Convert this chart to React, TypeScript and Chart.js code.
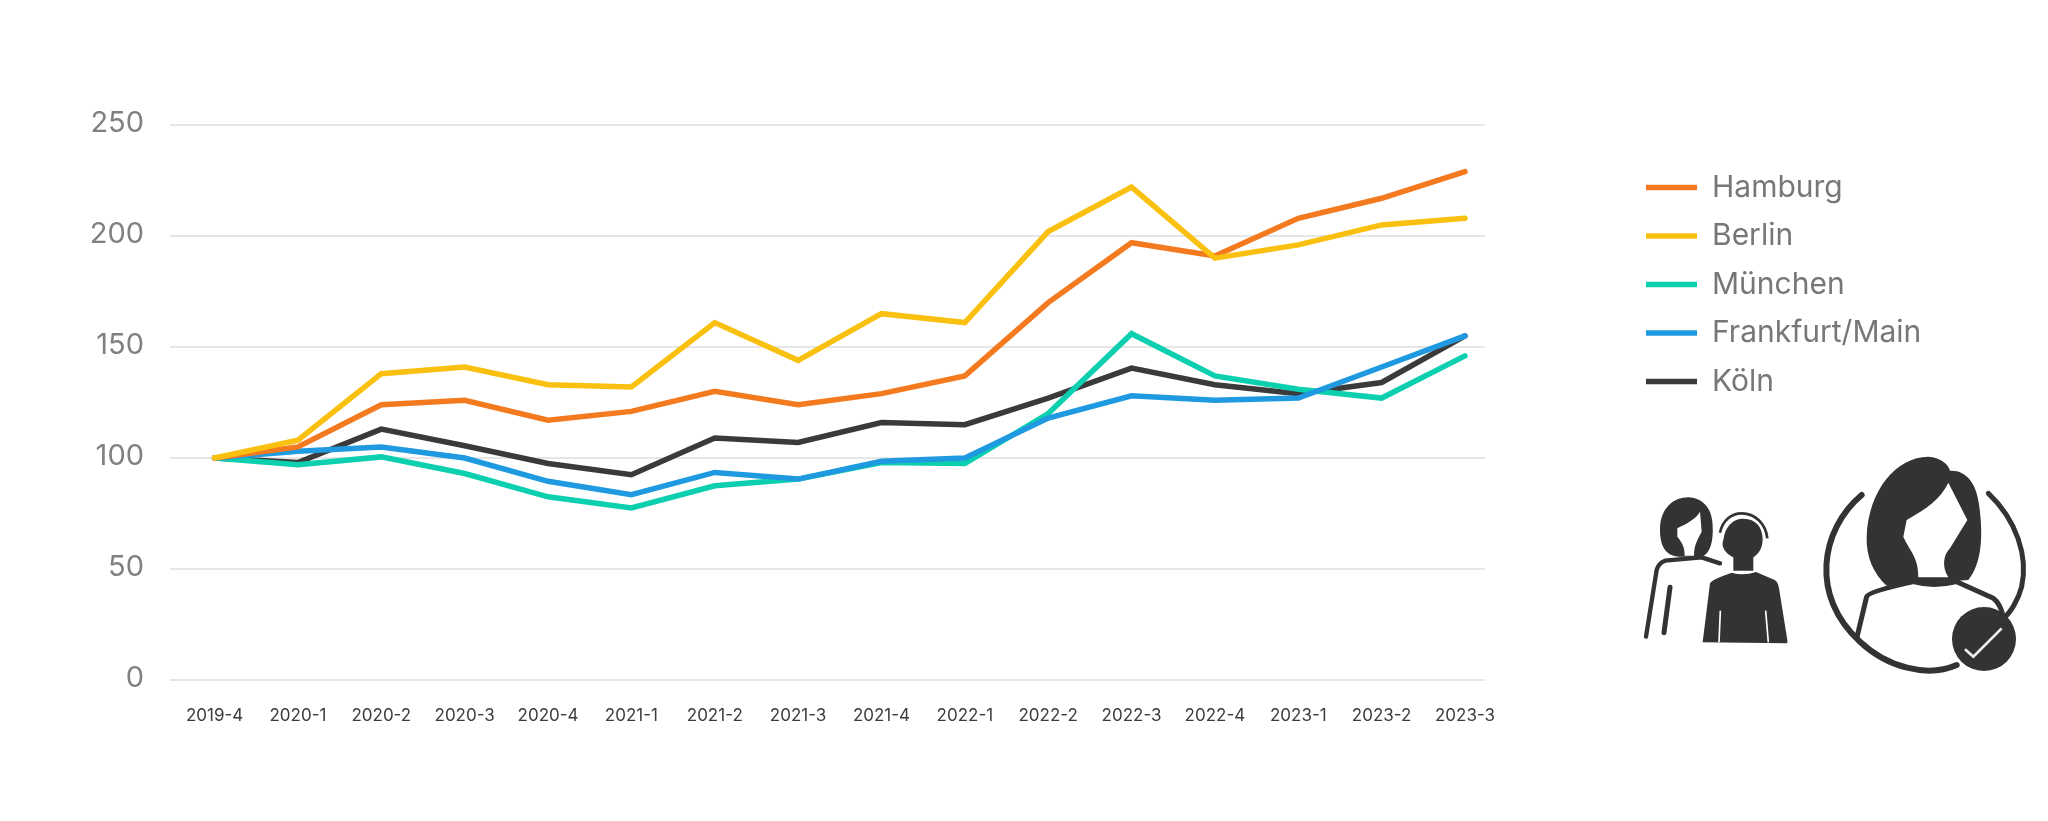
import React, { useEffect, useRef } from "react";
import { Chart, registerables } from "chart.js";

Chart.register(...registerables);

const categories = ["2019-4","2020-1","2020-2","2020-3","2020-4","2021-1","2021-2","2021-3","2021-4","2022-1","2022-2","2022-3","2022-4","2023-1","2023-2","2023-3"];
const hamburg = [100,105,124,126,117,121,130,124,129,137,170,197,191,208,217,229];
const berlin = [100,108,138,141,133,132,161,144,165,161,202,222,190,196,205,208];
const muenchen = [100,97,100.5,93,82.5,77.5,87.5,90.5,98,97.5,120,156,137,131,127,146];
const frankfurt = [100,103,105,100,89.5,83.5,93.5,90.5,98.5,100,118,128,126,127,141,155];
const koeln = [100,98,113,105.5,97.5,92.5,109,107,116,115,127,140.5,133,129,134,155];
const yTicks = [0,50,100,150,200,250];

const FONT = "Inter, 'Open Sans', sans-serif";

const legendPlace = {
  id: "legendPlace",
  beforeLayout(chart: any) {
    const legend = chart.legend;
    if (legend && !legend.__wrapped) {
      const fit = legend.fit;
      legend.fit = function () {
        fit.call(this);
        this.width = 563;
      };
      legend.__wrapped = true;
    }
  },
  afterLayout(chart: any) {
    const legend = chart.legend;
    const pad = legend.options.labels.padding;
    legend.left = 1646 - pad;
    legend.right = 2048;
    legend.top = 154;
  },
};

function App() {
  const ref = useRef<HTMLCanvasElement>(null);
  useEffect(() => {
    const series = [
      { label: "Hamburg", values: hamburg, color: "#f47a20", order: 1 },
      { label: "Berlin", values: berlin, color: "#fac00f", order: 0 },
      { label: "München", values: muenchen, color: "#0bcfae", order: 3 },
      { label: "Frankfurt/Main", values: frankfurt, color: "#1f9ae0", order: 2 },
      { label: "Köln", values: koeln, color: "#3a3a3a", order: 4 },
    ];
    const chart = new Chart(ref.current as HTMLCanvasElement, {
      type: "line",
      data: {
        datasets: series.map((s) => ({
          label: s.label,
          data: s.values.map((y, i) => ({ x: i, y })),
          borderColor: s.color,
          backgroundColor: s.color,
          borderWidth: 5.5,
          borderCapStyle: "round",
          borderJoinStyle: "miter",
          pointRadius: 0,
          tension: 0,
          order: s.order,
        })),
      },
      options: {
        animation: false,
        responsive: false,
        devicePixelRatio: 1,
        layout: { padding: { top: 125, left: 0, right: 0, bottom: 0 } },
        plugins: {
          tooltip: { enabled: false },
          title: { display: false },
          legend: {
            display: true,
            position: "right",
            align: "start",
            labels: {
              usePointStyle: true,
              pointStyle: "line",
              pointStyleWidth: 51,
              padding: 18.5,
              color: "#777777",
              font: { family: FONT, size: 30 },
              sort: (a: any, b: any) => a.datasetIndex - b.datasetIndex,
            },
          },
        },
        scales: {
          x: {
            type: "linear",
            min: -0.535,
            max: 15.24,
            afterFit: (s: any) => { s.height = 141; },
            afterBuildTicks: (s: any) => { s.ticks = categories.map((_, i) => ({ value: i })); },
            grid: { display: false, drawTicks: false },
            border: { display: false },
            ticks: {
              autoSkip: false,
              includeBounds: false,
              maxRotation: 0,
              minRotation: 0,
              padding: 26,
              color: "#3c3c3c",
              font: { family: FONT, size: 17 },
              callback: (v: any) => categories[v as number],
            },
          },
          y: {
            type: "linear",
            min: 0,
            max: 250,
            afterFit: (s: any) => { s.width = 170; },
            afterBuildTicks: (s: any) => { s.ticks = yTicks.map((value) => ({ value })); },
            grid: { color: "#e6e6e6", lineWidth: 2, drawTicks: false },
            border: { display: false },
            ticks: {
              padding: 26,
              labelOffset: -2,
              color: "#808080",
              font: { family: FONT, size: 29 },
            },
          },
        },
      } as any,
      plugins: [legendPlace],
    } as any);
    return () => chart.destroy();
  }, []);

  const dark = "#333333";
  return (
    <div style={{ position: "absolute", left: 0, top: 0, width: 2048, height: 821, background: "#fff", overflow: "hidden" }}>
      <canvas ref={ref} width={2048} height={821} style={{ display: "block", width: 2048, height: 821 }} />
      <svg viewBox="0 0 1284 780" width={428} height={260} style={{ position: "absolute", left: 1620, top: 440 }}>
        {/* small woman */}
        <path d="M120,270 C120,205 160,172 205,172 C240,174 272,195 277,245 C282,295 274,340 245,350 L175,350 C135,347 120,315 120,270 Z" fill={dark} />
        <path d="M240,215 C225,240 200,250 172,265 L172,290 C187,310 194,320 194,347 L222,347 C222,315 232,300 245,275 Z" fill="#fff" />
        <path d="M300,370 L245,352 L135,362 Q115,370 110,390 L78,590" fill="none" stroke={dark} strokeWidth={13} strokeLinecap="round" strokeLinejoin="round" />
        <path d="M150,442 L132,578" fill="none" stroke={dark} strokeWidth={15} strokeLinecap="round" />
        {/* small man */}
        <path d="M300,278 C308,240 335,220 365,220 C405,220 437,250 442,295" fill="none" stroke={dark} strokeWidth={8} />
        <path d="M310,300 C315,258 340,236 370,236 C408,236 428,262 428,298 C428,328 412,345 400,352 L400,392 L340,392 L340,352 C325,345 300,325 310,300 Z" fill={dark} />
        <path d="M248,607 L270,430 Q275,418 335,398 Q370,408 408,396 L464,420 Q474,426 477,445 L502,600 L502,610 Z" fill={dark} />
        <path d="M301,512 L297,607 M437,512 L445,607" fill="none" stroke="#fff" strokeWidth={5} />
        {/* large woman */}
        <path d="M725,165 C600,270 570,470 720,605 C800,680 920,715 1010,675" fill="none" stroke={dark} strokeWidth={18} strokeLinecap="round" />
        <path d="M1105,160 C1190,240 1225,350 1205,440 C1195,480 1170,520 1150,535" fill="none" stroke={dark} strokeWidth={15} strokeLinecap="round" />
        <path d="M740,290 C745,150 830,50 925,50 C960,52 985,72 990,92 C1040,90 1070,130 1078,200 C1090,290 1085,370 1045,420 L800,437 C760,400 738,350 740,290 Z" fill={dark} />
        <path d="M985,128 C960,180 920,205 860,240 L850,290 C870,335 895,350 895,412 L985,412 C965,380 970,345 990,325 L1042,240 Z" fill="#fff" />
        <path d="M710,595 L740,470 Q745,455 880,425 Q940,442 1010,425 L1120,475 Q1140,490 1150,530" fill="none" stroke={dark} strokeWidth={15} strokeLinejoin="round" />
        <circle cx="1092" cy="597" r="96" fill={dark} />
        <path d="M1035,628 L1060,650 L1145,565" fill="none" stroke="#f2f2f2" strokeWidth={8} />
      </svg>
    </div>
  );
}

export default App;
